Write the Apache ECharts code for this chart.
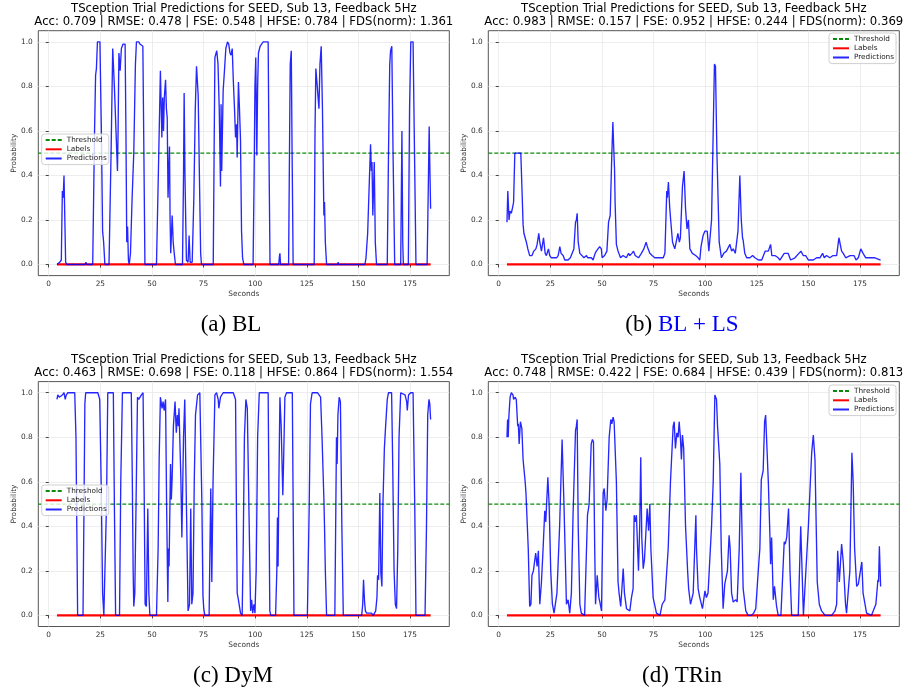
<!DOCTYPE html>
<html>
<head>
<meta charset="utf-8">
<script src="https://cdn.jsdelivr.net/npm/echarts@6/dist/echarts.min.js"></script>
<style>
html, body { margin: 0; padding: 0; background: #fff; }
#chart { width: 907px; height: 693px; }
</style>
</head>
<body>
<div id="chart"></div>
<script>
// tick labels
const xTicks = [0, 25, 50, 75, 100, 125, 150, 175];
const yTicks = [0, 0.2, 0.4, 0.6, 0.8, 1.0];
const xRange = [-5.05, 194.05];
const yRange = [-0.05, 1.05];

const threshold = 0.5;
const labelTimes = [4, 185];
const labelValues = [0, 0];

const titleLine = 'TSception Trial Predictions for SEED, Sub 13, Feedback 5Hz';
const metrics = [
  'Acc: 0.709 | RMSE: 0.478 | FSE: 0.548 | HFSE: 0.784 | FDS(norm): 1.361',
  'Acc: 0.983 | RMSE: 0.157 | FSE: 0.952 | HFSE: 0.244 | FDS(norm): 0.369',
  'Acc: 0.463 | RMSE: 0.698 | FSE: 0.118 | HFSE: 0.864 | FDS(norm): 1.554',
  'Acc: 0.748 | RMSE: 0.422 | FSE: 0.684 | HFSE: 0.439 | FDS(norm): 0.813'
];
const captions = ['(a) BL', '(b) {blue|BL + LS}', '(c) DyM', '(d) TRin'];

// predictions, [seconds, probability]
const predBL = [[4,0],[5.3,0.01],[6.1,0.02],[6.6,0.33],[7.0,0.30],[7.4,0.40],[8.2,0.01],[8.8,0],[11.7,0],[12,0.005],[12.4,0],[17.6,0],[18,0.01],[18.5,0],[21.3,0],[22.2,0.6],[22.7,0.85],[23.1,0.88],[23.6,1.0],[24.8,1.0],[25.5,0.6],[26.1,0.15],[26.6,0.1],[27.2,0],[29.2,0],[30.2,0.5],[31.0,0.97],[31.8,0.8],[33.3,0.42],[33.6,0.6],[34.0,0.95],[34.6,0.87],[35.2,0.97],[36.0,0.99],[37.0,0.99],[37.4,0.6],[37.8,0.1],[38.2,0.17],[38.6,0.02],[39.0,0],[39.6,0.05],[40.4,0.3],[41.2,0.5],[42.0,0.9],[42.5,1.0],[43.6,1.0],[44.2,0.99],[45.6,0.98],[46.1,0.5],[46.6,0],[52.2,0],[53.2,0.45],[54.1,0.87],[54.8,0.57],[55.2,0.75],[55.6,0.6],[56.0,0.75],[56.6,0.83],[57.0,0.7],[57.4,0.66],[57.8,0.3],[58.5,0.53],[58.8,0.2],[59.1,0.05],[59.8,0.22],[60.3,0.1],[60.8,0.05],[61.4,0],[64.8,0],[65.3,0.4],[65.6,0.77],[66.0,0.4],[66.7,0.02],[67.5,0.01],[68.0,0.13],[68.5,0.01],[69.5,0.01],[70.3,0.3],[71.0,0.7],[71.6,0.89],[72.4,0.76],[73.2,0.28],[73.6,0.05],[74.0,0],[79.7,0],[80.2,0.6],[80.5,0.93],[81.4,0.96],[82.0,0.9],[82.6,0.7],[83.2,0.35],[83.5,0.72],[83.8,0.42],[84.5,0.78],[85.2,0.88],[85.8,0.97],[86.6,1.0],[87.2,0.99],[87.8,0.95],[88.3,0.94],[88.9,0.97],[89.4,0.83],[90.0,0.7],[90.5,0.57],[91.0,0.63],[91.3,0.48],[91.9,0.82],[92.4,0.7],[92.9,0.56],[93.4,0.15],[93.9,0.03],[94.5,0],[99.0,0],[99.5,0.4],[99.9,0.8],[100.3,0.93],[100.8,0.49],[101.2,0.8],[101.6,0.95],[102.4,0.98],[103.1,0.99],[103.9,1.0],[106.3,1.0],[106.7,0.5],[107.2,0],[111.4,0],[111.8,0.04],[112.0,0.05],[112.3,0],[116.2,0],[116.8,0.7],[117.0,0.9],[117.5,0.96],[117.9,0.5],[118.4,0],[128.6,0],[129.0,0.6],[129.4,0.88],[130.0,0.81],[130.9,0.7],[131.4,0.9],[132.0,0.98],[132.6,0.7],[133.3,0.22],[133.6,0.28],[134.0,0.1],[134.6,0],[140.0,0],[140.2,0.01],[140.5,0],[153.2,0],[153.7,0.03],[154.5,0.14],[155.3,0.37],[155.9,0.54],[156.3,0.42],[156.6,0.46],[157.0,0.22],[157.7,0.46],[158.2,0.1],[158.8,0],[164.0,0],[164.6,0.5],[165.2,0.9],[165.6,0.96],[166.2,0.98],[166.8,0.5],[167.6,0],[170.5,0],[170.8,0.3],[171.1,0.6],[171.5,0.1],[171.8,0],[174.2,0],[174.8,0.7],[175.4,1.0],[176.5,1.0],[177.2,0.5],[177.9,0],[183.3,0],[183.8,0.3],[184.3,0.62],[184.7,0.4],[185,0.25]];

const predBLLS = [[4,0.19],[4.4,0.33],[5.0,0.2],[5.5,0.24],[6.1,0.23],[6.8,0.26],[7.2,0.28],[7.8,0.5],[8.6,0.5],[10.7,0.5],[11.4,0.3],[11.8,0.18],[12.2,0.14],[13.4,0.1],[14.1,0.07],[15.0,0.04],[16.1,0.04],[17.0,0.06],[18.0,0.07],[18.6,0.09],[19.4,0.14],[19.9,0.1],[20.7,0.06],[21.7,0.12],[22.5,0.05],[23.1,0.04],[24.1,0.07],[24.7,0.04],[25.5,0.03],[28.0,0.03],[28.8,0.04],[29.6,0.08],[30.2,0.05],[31.2,0.04],[32.0,0.02],[33.6,0.02],[34.7,0.03],[36.4,0.07],[37.2,0.19],[37.6,0.2],[38.0,0.23],[38.5,0.1],[39.3,0.05],[40.1,0.05],[41.3,0.03],[42.5,0.04],[43.1,0.03],[44.9,0.03],[45.7,0.02],[46.7,0.05],[47.3,0.06],[48.1,0.07],[48.9,0.08],[49.7,0.07],[50.1,0.03],[51.3,0.04],[52.4,0.06],[53.2,0.19],[54.0,0.22],[54.8,0.5],[55.3,0.64],[55.8,0.5],[56.1,0.43],[56.4,0.27],[57.0,0.09],[57.8,0.06],[59.0,0.03],[60.2,0.04],[61.8,0.03],[62.9,0.05],[63.5,0.04],[64.5,0.05],[65.3,0.06],[66.1,0.04],[67.7,0.03],[69.1,0.05],[70.3,0.07],[71.4,0.1],[72.0,0.08],[73.2,0.05],[74.3,0.04],[75.6,0.03],[79.7,0.03],[80.5,0.05],[81.4,0.33],[81.7,0.3],[82.2,0.37],[82.8,0.26],[83.3,0.2],[84.2,0.1],[85.3,0.07],[86.8,0.14],[87.5,0.1],[88.0,0.12],[89.0,0.35],[89.8,0.42],[90.5,0.25],[91.2,0.16],[91.9,0.2],[92.6,0.07],[93.8,0.05],[95.4,0.04],[96.6,0.03],[97.4,0.02],[98.0,0.08],[99.0,0.13],[99.9,0.15],[101.0,0.15],[101.8,0.06],[102.3,0.06],[103.1,0.2],[103.9,0.6],[104.5,0.9],[105.0,0.89],[105.7,0.5],[106.8,0.1],[107.9,0.03],[109.0,0.05],[110.3,0.06],[112.0,0.09],[112.8,0.06],[113.6,0.07],[114.6,0.05],[115.9,0.15],[116.8,0.4],[117.5,0.2],[118.1,0.12],[118.4,0.11],[119.2,0.05],[120.1,0.03],[121.7,0.03],[123.0,0.04],[124.1,0.03],[125.8,0.02],[127.4,0.02],[129.1,0.06],[130.6,0.06],[131.7,0.09],[132.3,0.04],[133.8,0.04],[135.4,0.03],[136.2,0.02],[138.3,0.05],[140.2,0.05],[141.4,0.02],[143.5,0.03],[146.4,0.06],[147.5,0.04],[148.7,0.04],[150.0,0.02],[152.4,0.02],[154.0,0.03],[155.6,0.03],[156.9,0.05],[157.7,0.03],[158.8,0.04],[160.4,0.03],[162.0,0.04],[163.7,0.04],[164.8,0.12],[165.3,0.12],[166.1,0.06],[166.9,0.05],[168.1,0.03],[170.2,0.04],[172.1,0.04],[173.1,0.02],[174.2,0.03],[175.4,0.07],[176.5,0.05],[177.8,0.03],[179.8,0.03],[182.2,0.03],[185,0.02]];

const predDyM = [[4,0.97],[4.4,0.99],[5.1,0.98],[6.6,0.99],[7.4,1.0],[8.0,0.97],[8.5,0.99],[9.3,1.0],[12.6,1.0],[13.2,0.8],[13.6,0.4],[14.0,0],[16.6,0],[17.1,0.5],[17.5,0.95],[17.9,1.0],[23.8,1.0],[24.7,0.97],[25.4,0.6],[26.1,0.1],[26.7,0],[27.6,0],[28.0,0.5],[28.6,1.0],[31.3,1.0],[31.8,0.5],[32.4,0],[34.3,0],[34.9,0.6],[35.7,1.0],[40.0,1.0],[40.5,0.6],[40.9,0.2],[41.2,0.04],[41.7,0.1],[42.3,0.5],[43.0,0.98],[43.6,0.97],[44.9,0.99],[45.7,1.0],[46.2,0.6],[46.7,0.05],[47.3,0.04],[48.0,0.48],[48.5,0.1],[49.0,0],[52.2,0],[53.0,0.3],[53.5,0.7],[54.1,0.98],[54.9,0.93],[55.4,0.96],[55.9,0.92],[56.6,0.97],[57.1,0.5],[57.7,0.06],[58.0,0.3],[58.3,0.22],[59.0,0.68],[59.4,0.52],[59.8,0.62],[60.4,0.85],[61.2,0.96],[61.8,0.82],[62.3,0.9],[62.8,0.85],[63.1,0.93],[64.0,0.62],[64.5,0.35],[65.3,0.8],[65.9,0.97],[66.7,0.5],[67.5,0.02],[68.2,0.05],[68.8,0.48],[69.3,0.05],[69.9,0.1],[70.5,0.6],[71.1,0.9],[72.1,0.99],[73.2,1.0],[73.6,0.8],[74.2,0.5],[74.7,0.09],[75.1,0.03],[75.6,0],[77.7,0],[78.1,0.3],[78.5,0.57],[79.0,0.15],[79.6,0.6],[80.5,0.99],[81.3,1.0],[82.1,0.97],[82.4,0.93],[83.2,0.98],[84.5,1.0],[89.4,1.0],[90.5,0.97],[90.9,0.5],[91.3,0.1],[91.9,0.07],[92.9,0.01],[93.7,0],[94.2,0.3],[94.8,0.8],[95.5,0.97],[96.2,0.93],[97.3,0.3],[97.8,0.02],[98.3,0.07],[98.8,0.01],[99.4,0.05],[99.9,0.01],[100.5,0.2],[101.2,0.8],[102.0,1.0],[106.3,1.0],[106.7,0.5],[107.1,0.02],[107.6,0],[109.9,0],[110.5,0.2],[110.8,0.44],[111.1,0.22],[111.5,0.6],[112.0,0.98],[112.6,0.85],[113.4,0.54],[113.8,0.7],[114.4,0.98],[115.2,1.0],[118.0,1.0],[118.4,0.5],[118.8,0],[125.3,0],[126.2,0.5],[126.8,0.95],[127.6,1.0],[130.2,1.0],[131.7,0.98],[132.4,0.8],[133.3,0.52],[133.6,0.4],[134.0,0.2],[134.6,0],[138.6,0],[139.1,0.5],[139.4,0.8],[139.7,0.68],[140.1,0.9],[140.7,0.98],[141.3,0.96],[142.0,0.4],[142.7,0],[151.6,0],[152.1,0.05],[152.5,0.16],[153.0,0.06],[153.4,0.02],[154.0,0.01],[156.4,0.01],[157.2,0],[158.4,0.02],[159.0,0.08],[159.3,0.18],[159.8,0.16],[160.4,0.55],[160.9,0.19],[161.4,0.13],[161.9,0.5],[162.6,0.75],[163.2,0.85],[164.0,0.97],[164.6,1.0],[166.1,1.0],[166.6,0.7],[167.3,0.2],[167.9,0.05],[168.5,0.03],[169.1,0.3],[169.7,0.8],[170.5,1.0],[172.6,0.99],[173.4,0.96],[173.7,0.92],[174.3,0.99],[175.3,1.0],[176.5,1.0],[177.3,0.5],[177.9,0],[182.3,0],[183.0,0.4],[183.6,0.9],[184.2,0.97],[184.6,0.95],[185,0.88]];

const predTRin = [[4,0.8],[4.3,0.88],[4.6,0.8],[4.9,0.89],[5.5,0.98],[6.1,1.0],[6.9,0.99],[7.2,0.97],[8.0,0.98],[8.5,0.97],[9.2,0.85],[9.5,0.86],[9.9,0.77],[10.5,0.87],[11.2,0.84],[11.8,0.7],[12.2,0.66],[12.8,0.6],[13.2,0.55],[13.7,0.55],[14.3,0.3],[15.0,0.04],[15.6,0.05],[16.1,0.18],[16.8,0.2],[17.9,0.28],[18.6,0.22],[19.2,0.29],[19.9,0.05],[20.7,0.15],[21.5,0.3],[22.3,0.47],[22.8,0.42],[23.8,0.62],[24.4,0.5],[25.2,0.2],[26.0,0.05],[26.8,0.01],[27.4,0.01],[28.2,0.1],[29.5,0.4],[30.7,0.79],[31.6,0.5],[32.8,0.05],[33.6,0.07],[34.4,0.01],[35.2,0.1],[36.0,0.45],[37.2,0.83],[37.6,0.85],[38.0,0.88],[38.5,0.4],[39.3,0.05],[40.0,0.01],[41.6,0],[43.0,0.45],[43.8,0.5],[44.8,0.77],[45.4,0.79],[45.9,0.78],[46.5,0.3],[46.9,0.05],[47.7,0.18],[48.5,0.08],[49.0,0.06],[49.8,0.02],[50.6,0.55],[51.1,0.57],[51.9,0.47],[52.5,0.52],[53.5,0.8],[54.3,0.88],[54.8,0.86],[55.4,0.89],[55.9,0.87],[57.0,0.6],[57.8,0.15],[58.3,0.1],[59.1,0.04],[60.3,0.21],[60.9,0.1],[61.9,0.03],[63.5,0.02],[64.3,0.08],[65.1,0.12],[65.6,0.45],[66.1,0.42],[66.7,0.45],[67.7,0.2],[68.3,0.4],[68.8,0.71],[69.3,0.35],[70.0,0.21],[70.6,0.25],[71.9,0.48],[72.6,0.38],[73.2,0.5],[73.7,0.3],[74.8,0.08],[76.4,0.01],[78.1,0],[79.2,0.05],[80.5,0.07],[82.1,0.3],[83.2,0.6],[84.5,0.85],[85.0,0.87],[85.6,0.75],[86.3,0.82],[86.9,0.8],[87.4,0.87],[88.0,0.8],[88.5,0.7],[89.0,0.81],[89.6,0.75],[90.5,0.4],[91.5,0.2],[92.0,0.12],[92.9,0.05],[94.2,0.1],[95.5,0.45],[95.8,0.3],[96.6,0.12],[97.4,0.08],[98.7,0.03],[99.9,0.11],[100.6,0.08],[101.4,0.1],[103.1,0.4],[103.9,0.6],[104.7,0.99],[105.5,0.97],[106.0,0.85],[107.1,0.68],[107.8,0.3],[108.7,0.03],[109.5,0.14],[110.8,0.2],[111.6,0.36],[112.1,0.3],[112.8,0.1],[113.6,0.06],[114.9,0.07],[115.5,0.06],[116.5,0.3],[117.3,0.64],[117.8,0.4],[118.4,0.12],[119.7,0.02],[120.8,0],[122.4,0],[123.5,0.01],[124.5,0.03],[126.1,0.25],[126.5,0.3],[127.2,0.61],[128.1,0.65],[128.8,0.87],[129.3,0.9],[130.6,0.6],[131.4,0.35],[131.7,0.23],[132.2,0.35],[133.0,0.07],[133.6,0.13],[134.6,0.04],[135.4,0],[136.7,0],[138.3,0.33],[138.8,0.32],[139.5,0.35],[140.4,0.48],[141.1,0.2],[141.9,0],[145.1,0],[146.3,0.4],[147.6,0],[148.4,0],[150.0,0.4],[151.6,0.73],[152.4,0.81],[153.2,0.7],[154.3,0.15],[155.3,0.05],[156.4,0.02],[157.2,0.02],[158.1,0],[161.3,0],[162.9,0.02],[163.7,0.05],[164.2,0.29],[165.0,0.15],[166.1,0.32],[166.9,0.24],[168.0,0.05],[168.5,0.01],[170.1,0.2],[171.1,0.73],[171.7,0.6],[172.4,0.3],[173.4,0.13],[174.2,0.14],[175.0,0.14],[175.9,0.24],[176.5,0.1],[178.2,0.01],[180.6,0],[182.7,0.05],[183.7,0.16],[184.0,0.15],[184.4,0.31],[185,0.13]];

const preds = [predBL, predBLLS, predDyM, predTRin];

// layout of the 2x2 panels
const panels = [
  { left: 38.3, top: 30.7, titleTop: 2.8, legendLeft: 41.7, legendTop: 134, capY: 313 },
  { left: 488.3, top: 30.7, titleTop: 2.8, legendLeft: 829, legendTop: 33, capY: 313 },
  { left: 38.3, top: 381.6, titleTop: 353.8, legendLeft: 41.7, legendTop: 485, capY: 664 },
  { left: 488.3, top: 381.6, titleTop: 353.8, legendLeft: 829, legendTop: 385, capY: 664 }
];
const capX = [231, 682, 233, 682];
const plotW = 411;
const plotH = 244.9;
const font = 'DejaVu Sans';
const green = '#0a8a0a';

var option = {
  animation: false,
  backgroundColor: '#fff',
  title: [],
  legend: [],
  grid: [],
  xAxis: [],
  yAxis: [],
  series: []
};

panels.forEach(function (p, i) {
  option.grid.push({
    left: p.left, top: p.top, width: plotW, height: plotH,
    show: true, borderColor: '#555', borderWidth: 1, backgroundColor: 'transparent'
  });
  option.title.push({
    text: titleLine + '\n' + metrics[i],
    left: p.left + plotW / 2, top: p.titleTop, textAlign: 'center', padding: 0,
    textStyle: { fontFamily: font, fontSize: 11.7, lineHeight: 13, fontWeight: 'normal', color: '#000' }
  });
  option.title.push({
    text: captions[i],
    left: capX[i], top: p.capY, textAlign: 'center', padding: 0,
    textStyle: {
      fontFamily: 'Liberation Serif', fontSize: 23, fontWeight: 'normal', color: '#000',
      rich: { blue: { fontFamily: 'Liberation Serif', fontSize: 23, color: '#0000ff' } }
    }
  });
  option.legend.push({
    orient: 'vertical', left: p.legendLeft, top: p.legendTop,
    data: ['Threshold', 'Labels', 'Predictions'],
    selectedMode: false,
    itemWidth: 16, itemHeight: 9, itemGap: 2,
    padding: [2.5, 2, 2.5, 3],
    backgroundColor: 'rgba(255,255,255,0.8)',
    borderColor: '#d0d0d0', borderWidth: 1, borderRadius: 3,
    itemStyle: { opacity: 0 },
    textStyle: { fontFamily: font, fontSize: 7.3, color: '#222' }
  });
  option.xAxis.push({
    type: 'value', gridIndex: i, min: xRange[0], max: xRange[1],
    name: 'Seconds', nameLocation: 'middle', nameGap: 15,
    nameTextStyle: { fontFamily: font, fontSize: 7.4, color: '#333' },
    axisLine: { show: false },
    axisTick: { show: true, length: 3, customValues: xTicks, lineStyle: { color: '#444' } },
    axisLabel: { customValues: xTicks, fontFamily: font, fontSize: 7.4, color: '#333', margin: 5 },
    splitLine: { show: true, lineStyle: { color: '#e8e8e8', width: 0.8 } }
  });
  option.yAxis.push({
    type: 'value', gridIndex: i, min: yRange[0], max: yRange[1],
    name: 'Probability', nameLocation: 'middle', nameGap: 20,
    nameTextStyle: { fontFamily: font, fontSize: 7.4, color: '#333' },
    axisLine: { show: false },
    axisTick: { show: true, length: 3, customValues: yTicks, lineStyle: { color: '#444' } },
    axisLabel: {
      customValues: yTicks, fontFamily: font, fontSize: 7.4, color: '#333', margin: 5.5,
      formatter: function (v) { return v.toFixed(1) }
    },
    splitLine: { show: true, lineStyle: { color: '#e8e8e8', width: 0.8 } }
  });
  // horizontal threshold across the full axis width (like axhline)
  option.series.push({
    name: 'Threshold', type: 'line', xAxisIndex: i, yAxisIndex: i,
    data: xRange.map(function (x) { return [x, threshold] }),
    symbol: 'none', silent: true,
    itemStyle: { color: green },
    lineStyle: { color: green, width: 1.2, type: [4, 2] }
  });
  option.series.push({
    name: 'Labels', type: 'line', xAxisIndex: i, yAxisIndex: i,
    data: labelTimes.map(function (t, k) { return [t, labelValues[k]] }),
    symbol: 'none',
    itemStyle: { color: '#ff0000' },
    lineStyle: { color: '#ff0000', width: 2.2 }
  });
  option.series.push({
    name: 'Predictions', type: 'line', xAxisIndex: i, yAxisIndex: i,
    data: preds[i], symbol: 'none',
    itemStyle: { color: '#0000ff' },
    lineStyle: { color: 'rgba(0,0,255,0.85)', width: 1.35 }
  });
});

var myChart = echarts.init(document.getElementById('chart'));
myChart.setOption(option);
</script>
</body>
</html>
